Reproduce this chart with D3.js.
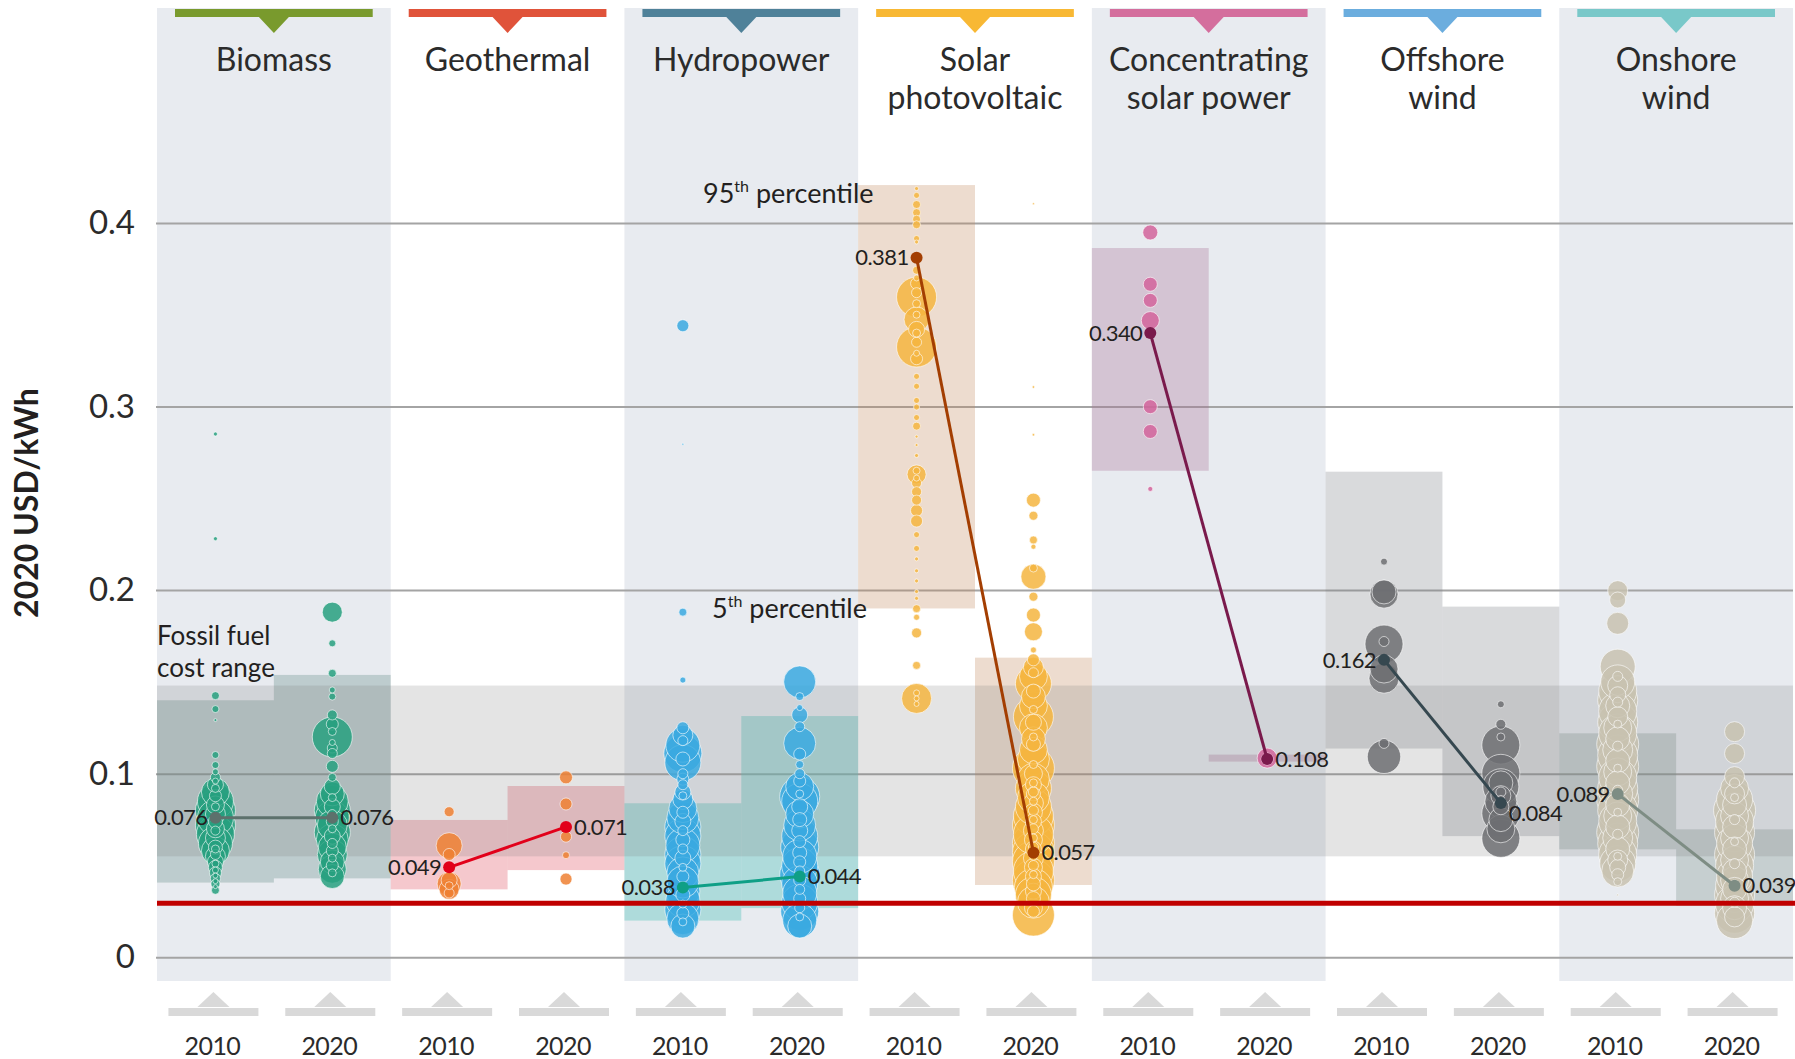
<!DOCTYPE html>
<html><head><meta charset="utf-8">
<script src="https://cdn.jsdelivr.net/npm/d3@7"></script>
<style>
body{margin:0;background:#fff;}
svg{display:block;font-family:Lato,"Open Sans",sans-serif;}
</style></head><body>
<svg id="chart" width="1795" height="1059"></svg>
<script>
// ---------- DATA ----------
const technologies = ["Biomass","Geothermal","Hydropower","Solar photovoltaic","Concentrating solar power","Offshore wind","Onshore wind"];
const titleLines = [["Biomass"],["Geothermal"],["Hydropower"],["Solar","photovoltaic"],["Concentrating","solar power"],["Offshore","wind"],["Onshore","wind"]];
const years = ["2010","2020"];
const yTicks = [0,0.1,0.2,0.3,0.4];
const median2010 = [0.076,0.049,0.038,0.381,0.340,0.162,0.089];
const median2020 = [0.076,0.071,0.044,0.057,0.108,0.084,0.039];
const p05_2010 = [0.0407,0.037,0.020,0.190,0.265,0.1137,0.0588];
const p95_2010 = [0.140,0.0748,0.0839,0.4206,0.3863,0.2645,0.122];
const p05_2020 = [0.043,0.0475,0.0268,0.0394,0.1066,0.066,0.028];
const p95_2020 = [0.1538,0.0933,0.1314,0.1632,0.1104,0.191,0.0697];
const fossilRange = [0.055,0.148];
const redLineValue = 0.0295;

// project-level LCOE (USD/kWh) and capacity (MW)
const biomass2010 = [[0.285,16],[0.228,16],[0.1425,64],[0.1352,49],[0.1292,9],[0.1102,49],[0.1047,49],[0.101,36],[0.098,100],[0.094,256],[0.090,784],[0.085,1296],[0.080,1600],[0.076,1296],[0.072,1600],[0.067,1444],[0.062,1156],[0.058,784],[0.055,400],[0.052,256],[0.049,196],[0.046,144],[0.043,100],[0.040,81],[0.0365,64],
 [0.092,64],[0.088,144],[0.083,324],[0.078,400],[0.074,196],[0.070,324],[0.065,400],[0.060,196],[0.056,100],[0.051,49],[0.0475,36],[0.0445,25],[0.0415,25],[0.0385,16],[0.082,64],[0.069,81],[0.059,64],[0.096,36]];
const biomass2020 = [[0.188,400],[0.171,49],[0.1547,64],[0.1456,36],[0.142,49],[0.132,100],[0.127,144],[0.120,1600],[0.114,100],[0.111,100],[0.104,144],[0.098,64],[0.093,256],[0.089,576],[0.085,1024],[0.080,1296],[0.076,1156],[0.072,900],[0.068,1296],[0.064,1024],[0.060,784],[0.056,900],[0.052,576],[0.048,784],[0.044,576],
 [0.082,256],[0.074,144],[0.066,256],[0.058,144],[0.050,144],[0.046,64],[0.078,81],[0.070,64],[0.062,100],[0.054,64],[0.123,64],[0.117,36],[0.087,64]];
const geothermal2010 = [[0.0793,100],[0.0608,676],[0.056,144],[0.042,256],[0.040,576],[0.037,400],[0.035,100],[0.039,64]];
const geothermal2020 = [[0.098,169],[0.0835,144],[0.071,100],[0.0657,121],[0.0556,49],[0.0426,144]];
const hydropower2010 = [[0.344,144],[0.2795,4],[0.188,64],[0.151,36],[0.125,144],[0.121,400],[0.1155,1156],[0.111,1444],[0.106,1296],[0.100,100],[0.097,144],[0.094,100],[0.090,256],[0.086,400],[0.081,784],[0.076,1024],[0.071,1296],[0.066,1296],[0.061,1156],[0.056,1296],[0.051,1296],[0.046,1024],[0.041,1024],[0.036,1156],[0.031,1156],[0.026,1296],[0.021,1024],[0.017,576],
 [0.074,256],[0.064,196],[0.054,256],[0.044,144],[0.034,196],[0.024,144],[0.069,100],[0.059,100],[0.049,64],[0.039,64],[0.029,64],[0.079,144],[0.088,64],[0.118,100],[0.108,196],[0.0193,64]];
const hydropower2020 = [[0.150,1024],[0.142,64],[0.136,36],[0.132,256],[0.1256,100],[0.1166,1024],[0.1107,144],[0.105,64],[0.093,784],[0.0875,1600],[0.085,1296],[0.078,784],[0.072,1024],[0.066,1296],[0.060,1444],[0.055,1156],[0.050,1296],[0.045,1600],[0.040,1296],[0.035,1156],[0.030,1296],[0.025,1444],[0.020,1156],[0.017,576],
 [0.096,144],[0.082,256],[0.075,196],[0.069,256],[0.063,144],[0.057,196],[0.052,144],[0.047,100],[0.042,144],[0.037,100],[0.032,144],[0.027,100],[0.022,64],[0.100,100],[0.089,64]];
const solarPV2010 = [[0.4187,16],[0.415,36],[0.410,64],[0.4056,64],[0.402,64],[0.399,64],[0.3915,36],[0.3896,16],[0.3742,64],[0.367,144],[0.3596,1600],[0.3474,625],[0.342,256],[0.3324,1600],[0.326,144],[0.3164,36],[0.311,36],[0.3033,36],[0.2997,36],[0.294,36],[0.2893,64],[0.2836,9],[0.279,9],[0.2733,16],[0.263,361],[0.2583,100],[0.2536,100],[0.249,100],[0.2433,144],[0.2376,144],[0.2302,36],[0.2227,36],[0.217,16],[0.2105,16],[0.205,16],[0.1992,16],[0.1955,16],[0.1899,64],[0.1852,36],[0.1767,100],[0.159,64],[0.141,900],
 [0.362,100],[0.356,64],[0.350,49],[0.340,64],[0.335,100],[0.329,36],[0.370,36],[0.265,49],[0.261,36],[0.144,36],[0.141,25],[0.138,25]];
const solarPV2020 = [[0.4104,4],[0.3106,6],[0.2846,6],[0.249,196],[0.2405,81],[0.2273,64],[0.2236,25],[0.212,64],[0.2073,625],[0.1964,81],[0.1864,196],[0.1773,324],[0.1674,36],[0.162,144],[0.158,400],[0.153,784],[0.149,1296],[0.142,576],[0.137,784],[0.131,1600],[0.125,784],[0.119,576],[0.113,784],[0.108,1024],[0.103,1764],[0.097,1024],[0.092,1296],[0.087,1024],[0.082,1296],[0.077,1600],[0.072,1764],[0.067,1600],[0.062,1764],[0.057,1764],[0.052,1764],[0.047,1600],[0.042,1764],[0.038,1444],[0.034,1296],[0.030,1024],[0.023,1764],
 [0.155,100],[0.145,196],[0.128,256],[0.116,196],[0.100,324],[0.094,256],[0.089,196],[0.084,400],[0.079,324],[0.074,256],[0.069,400],[0.064,324],[0.059,256],[0.054,400],[0.049,324],[0.044,256],[0.040,196],[0.036,256],[0.032,196],[0.027,324],[0.025,144],[0.060,100],[0.070,100],[0.080,100],[0.090,100],[0.050,100],[0.045,64],[0.055,64],[0.065,64],[0.075,64],[0.085,64],[0.095,64],[0.105,64],[0.120,64],[0.135,64]];
const csp2010 = [[0.3948,225],[0.3666,196],[0.3578,196],[0.3468,324],[0.2999,196],[0.2864,196],[0.2551,25]];
const csp2020 = [[0.1085,400],[0.108,144]];
const offshore2010 = [[0.2155,49],[0.1978,784],[0.199,576],[0.1706,1444],[0.172,100],[0.157,784],[0.152,900],[0.1165,100],[0.1092,1115]];
const offshore2020 = [[0.1378,49],[0.1269,100],[0.1156,1444],[0.1002,1444],[0.0929,1296],[0.0848,1024],[0.0784,1444],[0.0648,1444],
 [0.120,64],[0.095,576],[0.088,400],[0.082,256],[0.075,576],[0.070,784],[0.090,100],[0.086,64]];
const onshore2010 = [[0.1997,400],[0.1946,256],[0.1819,484],[0.1583,1225],[0.150,1156],[0.145,1444],[0.140,1600],[0.134,1444],[0.128,1600],[0.122,1444],[0.116,1764],[0.110,1600],[0.104,1764],[0.098,1444],[0.092,1600],[0.086,1764],[0.080,1600],[0.074,1444],[0.068,1764],[0.062,1600],[0.056,1444],[0.051,1296],[0.047,1024],[0.0412,64],[0.034,4],
 [0.148,400],[0.143,256],[0.137,576],[0.131,400],[0.125,784],[0.119,576],[0.113,900],[0.107,576],[0.101,784],[0.095,576],[0.089,900],[0.083,576],[0.077,784],[0.071,576],[0.065,900],[0.059,576],[0.053,400],[0.049,256],[0.045,144],[0.153,100],[0.139,100],[0.127,64],[0.115,100],[0.103,64],[0.091,100],[0.079,64],[0.067,100],[0.055,64]];
const onshore2020 = [[0.1229,400],[0.111,400],[0.0984,400],[0.092,784],[0.086,1296],[0.080,1764],[0.074,1444],[0.068,1600],[0.062,1296],[0.056,1600],[0.050,1444],[0.044,1296],[0.039,1444],[0.034,1600],[0.029,1444],[0.024,1600],[0.020,1296],
 [0.089,400],[0.083,576],[0.077,784],[0.071,576],[0.065,784],[0.059,576],[0.053,784],[0.047,576],[0.042,784],[0.037,576],[0.032,784],[0.027,576],[0.022,400],[0.095,100],[0.087,64],[0.075,100],[0.063,64],[0.051,100],[0.040,64],[0.030,100]];

const projects2010 = [biomass2010,geothermal2010,hydropower2010,solarPV2010,csp2010,offshore2010,onshore2010];
const projects2020 = [biomass2020,geothermal2020,hydropower2020,solarPV2020,csp2020,offshore2020,onshore2020];

// ---------- STYLE ----------
const headerColors = ["#799a2d","#e0533a","#4f8199","#f8b834","#d46e9d","#6badde","#79c8c9"];
const dotColors = ["#27a07f","#ee8033","#3aa9e0","#f5b53f","#d2649b","#6d6e72","#c8c2b0"];
const medianColors = ["#5d716c","#e2001a","#0f9f86","#a33e02","#7a1a4c","#364850","#7e8d84"];
const boxColors = ["rgba(100,140,135,0.32)","rgba(222,72,88,0.3)","rgba(92,197,190,0.42)","rgba(195,138,95,0.3)","rgba(165,105,147,0.3)","rgba(128,132,138,0.3)","rgba(120,142,135,0.3)"];
const panelShade = [true,false,true,false,true,false,true];

const W = 1795, H = 1059;
const left = 157, right = 1793;
const svg = d3.select("#chart");

const x = d3.scaleBand().domain(technologies).range([left,right]);
const xs = d3.scaleBand().domain(years).range([0,x.bandwidth()]);
const y = d3.scaleLinear().domain([0,0.4]).range([957.3,222.9]);
const r = d3.scaleSqrt().domain([0,2500]).range([0,25]);
const cx = (t,yr) => x(t)+xs(yr)+xs.bandwidth()/2;

// panel backgrounds
svg.append("g").selectAll("rect").data(technologies).join("rect")
  .attr("x",d=>x(d)).attr("y",8).attr("width",x.bandwidth()).attr("height",973)
  .attr("fill",(d,i)=>panelShade[i]?"#e8ebf0":"none");

// headers
const hdr = svg.append("g");
technologies.forEach((t,i)=>{
  const c = x(t)+x.bandwidth()/2;
  hdr.append("rect").attr("x",x(t)+18).attr("y",9).attr("width",x.bandwidth()-36).attr("height",8).attr("fill",headerColors[i]);
  hdr.append("path").attr("d",`M${c-15},17L${c+15},17L${c},33Z`).attr("fill",headerColors[i]);
  const tt = hdr.append("text").attr("text-anchor","middle").attr("font-size",32).attr("fill","#2b2b2b");
  titleLines[i].forEach((ln,j)=>{
    tt.append("tspan").attr("x",c).attr("y",71+j*38).text(ln);
  });
});

// y axis with gridlines
const yAxis = svg.append("g").attr("transform",`translate(${left-1},0)`)
  .call(d3.axisLeft(y).tickValues(yTicks).tickSize(-(right-left+1)).tickPadding(21)
    .tickFormat(d=>d===0?"0":d3.format(".1f")(d)));
yAxis.select(".domain").remove();
yAxis.selectAll(".tick line").attr("stroke","#a4a4a4").attr("stroke-width",2);
yAxis.selectAll(".tick text").attr("font-size",33).attr("fill","#2b2b2b").attr("font-family","Lato,sans-serif");

// percentile boxes
const boxes = svg.append("g");
technologies.forEach((t,i)=>{
  [[ "2010",p05_2010[i],p95_2010[i]],["2020",p05_2020[i],p95_2020[i]]].forEach(([yr,lo,hi])=>{
    boxes.append("rect").attr("x",x(t)+xs(yr)).attr("width",xs.bandwidth())
      .attr("y",y(hi)).attr("height",y(lo)-y(hi)).attr("fill",boxColors[i]);
  });
});

// fossil fuel band
svg.append("rect").attr("x",left).attr("width",right-left)
  .attr("y",y(fossilRange[1])).attr("height",y(fossilRange[0])-y(fossilRange[1]))
  .attr("fill","rgba(120,120,120,0.2)");

// project bubbles
const dots = svg.append("g");
technologies.forEach((t,i)=>{
  [["2010",projects2010[i]],["2020",projects2020[i]]].forEach(([yr,arr])=>{
    const sorted = arr.slice().sort((a,b)=>b[1]-a[1]);
    dots.append("g").selectAll("circle").data(sorted).join("circle")
      .attr("cx",cx(t,yr)).attr("cy",d=>y(d[0])).attr("r",d=>r(d[1]))
      .attr("fill",dotColors[i]).attr("fill-opacity",0.85)
      .attr("stroke","#fff").attr("stroke-opacity",0.6).attr("stroke-width",1);
  });
});

// red line
svg.append("line").attr("x1",left).attr("x2",W).attr("y1",y(redLineValue)).attr("y2",y(redLineValue))
  .attr("stroke","#c00000").attr("stroke-width",5);

// medians
const med = svg.append("g");
const labelShift = {"Offshore wind":10};
technologies.forEach((t,i)=>{
  const x1 = cx(t,"2010"), x2 = cx(t,"2020"), y1 = y(median2010[i]), y2 = y(median2020[i]);
  med.append("line").attr("x1",x1).attr("y1",y1).attr("x2",x2).attr("y2",y2)
    .attr("stroke",medianColors[i]).attr("stroke-width",3);
  med.append("circle").attr("cx",x1).attr("cy",y1).attr("r",6).attr("fill",medianColors[i]);
  med.append("circle").attr("cx",x2).attr("cy",y2).attr("r",6).attr("fill",medianColors[i]);
  med.append("text").attr("x",x1-8).attr("y",y1).attr("dy","0.35em").attr("text-anchor","end")
    .attr("font-size",22).attr("letter-spacing",-0.6).attr("fill","#231f20").text(d3.format(".3f")(median2010[i]));
  med.append("text").attr("x",x2+8).attr("y",y2+(labelShift[t]||0)).attr("dy","0.35em").attr("text-anchor","start")
    .attr("font-size",22).attr("letter-spacing",-0.6).attr("fill","#231f20").text(d3.format(".3f")(median2020[i]));
});

// x axis markers
const xa = svg.append("g");
technologies.forEach(t=>{
  years.forEach(yr=>{
    const c = cx(t,yr)-2;
    xa.append("path").attr("d",`M${c-16},1007L${c+16},1007L${c},992Z`).attr("fill","#d9d9d9");
    xa.append("rect").attr("x",c-45).attr("y",1008).attr("width",90).attr("height",8).attr("fill","#d9d9d9");
    xa.append("text").attr("x",c-1).attr("y",1055).attr("text-anchor","middle").attr("font-size",25)
      .attr("letter-spacing",-0.6).attr("fill","#2b2b2b").text(yr);
  });
});

// annotations
const ann = svg.append("g").attr("fill","#231f20").attr("font-size",27);
const a1 = ann.append("text").attr("x",703).attr("y",203);
a1.append("tspan").text("95");
a1.append("tspan").attr("font-size",16).attr("dy",-11).text("th");
a1.append("tspan").attr("dy",11).text(" percentile");
const a2 = ann.append("text").attr("x",712).attr("y",618);
a2.append("tspan").text("5");
a2.append("tspan").attr("font-size",16).attr("dy",-11).text("th");
a2.append("tspan").attr("dy",11).text(" percentile");
ann.append("text").attr("x",157).attr("y",645).attr("font-size",26).text("Fossil fuel");
ann.append("text").attr("x",157).attr("y",677).attr("font-size",26).text("cost range");

// y title
svg.append("text").attr("transform","translate(38,503) rotate(-90)").attr("text-anchor","middle")
  .attr("font-size",32).attr("font-weight","bold").attr("fill","#231f20").text("2020 USD/kWh");
</script>
</body></html>
